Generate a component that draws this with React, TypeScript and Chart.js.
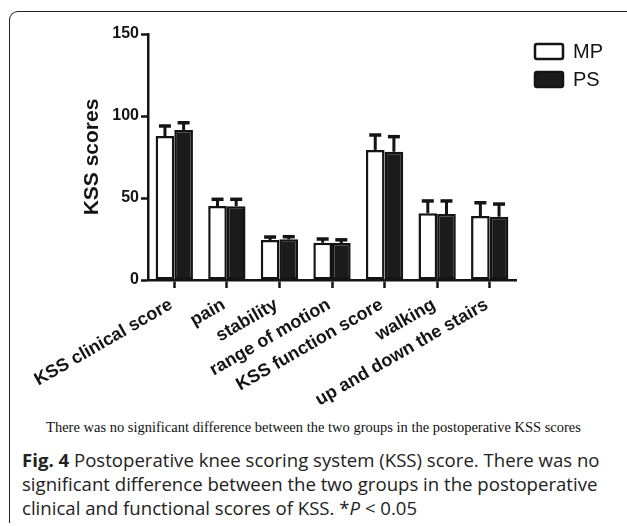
import React, { useEffect, useRef } from "react";
import { Chart, registerables } from "chart.js";

Chart.register(...registerables);

const categories = [
  "KSS clinical score",
  "pain",
  "stability",
  "range of motion",
  "KSS function score",
  "walking",
  "up and down the stairs",
];
const seriesNames = ["MP", "PS"];
const mpMeans = [87.8, 45.1, 24.4, 22.7, 79.3, 40.7, 39.0];
const mpSD = [6.1, 4.1, 1.8, 2.3, 9.1, 7.5, 8.1];
const psMeans = [91.5, 45.0, 24.8, 22.5, 78.2, 40.2, 38.6];
const psSD = [4.4, 4.2, 1.6, 2.0, 9.2, 8.0, 7.7];
const yTicks = [0, 50, 100, 150];

const INK = "#141414";
const FONT = "'Liberation Sans', Arial, sans-serif";

const errorBarPlugin = {
  id: "errorBars",
  afterDatasetsDraw(chart: any) {
    const { ctx } = chart;
    const yScale = chart.scales.y;
    chart.data.datasets.forEach((ds: any, i: number) => {
      const meta = chart.getDatasetMeta(i);
      meta.data.forEach((bar: any, j: number) => {
        const v = ds.data[j];
        const e = ds.errors[j];
        const yTop = yScale.getPixelForValue(v + e);
        const yBase = yScale.getPixelForValue(v);
        ctx.save();
        ctx.strokeStyle = INK;
        ctx.lineWidth = 3;
        ctx.beginPath();
        ctx.moveTo(bar.x, yBase);
        ctx.lineTo(bar.x, yTop);
        ctx.stroke();
        ctx.lineWidth = 3.5;
        ctx.beginPath();
        ctx.moveTo(bar.x - 6, yTop);
        ctx.lineTo(bar.x + 6, yTop);
        ctx.stroke();
        ctx.restore();
      });
    });
  },
};

const legendPlugin = {
  id: "customLegend",
  afterDraw(chart: any) {
    const { ctx } = chart;
    chart.data.datasets.forEach((ds: any, i: number) => {
      const x = 535;
      const y = 44 + i * 28;
      ctx.save();
      ctx.fillStyle = ds.backgroundColor;
      ctx.strokeStyle = INK;
      ctx.lineWidth = 2.5;
      ctx.beginPath();
      ctx.roundRect(x, y, 28, 15, 2);
      ctx.fill();
      ctx.stroke();
      ctx.fillStyle = INK;
      ctx.font = `20px ${FONT}`;
      ctx.textBaseline = "middle";
      ctx.textAlign = "left";
      ctx.fillText(ds.label, 573, y + 8.5);
      ctx.restore();
    });
  },
};

function KSSChart() {
  const ref = useRef<HTMLCanvasElement>(null);
  useEffect(() => {
    if (!ref.current) return;
    const chart = new Chart(ref.current, {
      type: "bar",
      data: {
        labels: categories,
        datasets: [
          {
            label: seriesNames[0],
            data: mpMeans,
            errors: mpSD,
            backgroundColor: "#ffffff",
            borderColor: INK,
            borderWidth: 2.5,
            borderSkipped: false,
            categoryPercentage: 0.71,
            barPercentage: 1,
          } as any,
          {
            label: seriesNames[1],
            data: psMeans,
            errors: psSD,
            backgroundColor: "#1b1b1b",
            borderColor: INK,
            borderWidth: 2.5,
            borderSkipped: false,
            categoryPercentage: 0.71,
            barPercentage: 1,
          } as any,
        ],
      },
      options: {
        responsive: false,
        animation: false,
        layout: { padding: { left: 76, top: 34, right: 111, bottom: 0 } },
        plugins: {
          legend: { display: false },
          tooltip: { enabled: false },
        },
        scales: {
          x: {
            type: "category",
            offset: true,
            grid: {
              display: true,
              drawOnChartArea: false,
              drawTicks: true,
              tickLength: 8,
              tickColor: INK,
              tickWidth: 2.5,
              color: INK,
              offset: false,
            },
            border: { display: true, color: INK, width: 2.5 },
            ticks: {
              autoSkip: false,
              minRotation: 30,
              maxRotation: 30,
              padding: 6,
              labelOffset: -3,
              color: INK,
              font: { family: FONT, size: 18, weight: "bold" },
            },
            afterFit: (scale: any) => {
              scale.height = 135;
            },
          },
          y: {
            min: 0,
            max: 150,
            afterBuildTicks: (scale: any) => {
              scale.ticks = yTicks.map((v) => ({ value: v }));
            },
            grid: {
              display: true,
              drawOnChartArea: false,
              drawTicks: true,
              tickLength: 7,
              tickColor: INK,
              tickWidth: 2.5,
              color: INK,
            },
            border: { display: true, color: INK, width: 2.5 },
            ticks: {
              padding: 2,
              color: INK,
              font: { family: FONT, size: 16, weight: "bold" },
            },
            title: {
              display: true,
              text: "KSS scores",
              color: INK,
              font: { family: FONT, size: 21, weight: "bold" },
            },
            afterFit: (scale: any) => {
              scale.width = 72;
            },
          },
        },
      } as any,
      plugins: [errorBarPlugin, legendPlugin],
    });
    return () => chart.destroy();
  }, []);
  return <canvas ref={ref} width={627} height={415} style={{ display: "block" }} />;
}

export default function App() {
  return (
    <div
      style={{
        position: "absolute",
        left: 0,
        top: 0,
        width: 627,
        height: 526,
        overflow: "hidden",
        background: "#ffffff",
      }}
    >
      <div
        style={{
          position: "absolute",
          left: 9,
          top: 11,
          width: 640,
          height: 511,
          borderLeft: "1.5px solid #222",
          borderTop: "1.5px solid #222",
          borderTopLeftRadius: 9,
        }}
      />
      <div style={{ position: "absolute", left: 0, top: 0 }}>
        <KSSChart />
      </div>
      <div
        style={{
          position: "absolute",
          left: 0,
          top: 418,
          width: 627,
          textAlign: "center",
          fontFamily: "'Liberation Serif', 'Times New Roman', serif",
          fontSize: 14.5,
          lineHeight: "18px",
          color: "#111",
          whiteSpace: "nowrap",
        }}
      >
        There was no significant difference between the two groups in the postoperative KSS scores
      </div>
      <div
        style={{
          position: "absolute",
          left: 22,
          top: 448,
          fontFamily: "'Open Sans', 'Noto Sans', sans-serif",
          fontSize: 18.6,
          lineHeight: "24px",
          color: "#222",
          whiteSpace: "nowrap",
        }}
      >
        <b>Fig. 4</b> Postoperative knee scoring system (KSS) score. There was no
        <br />
        significant difference between the two groups in the postoperative
        <br />
        clinical and functional scores of KSS. *<i>P</i> &lt; 0.05
      </div>
    </div>
  );
}
